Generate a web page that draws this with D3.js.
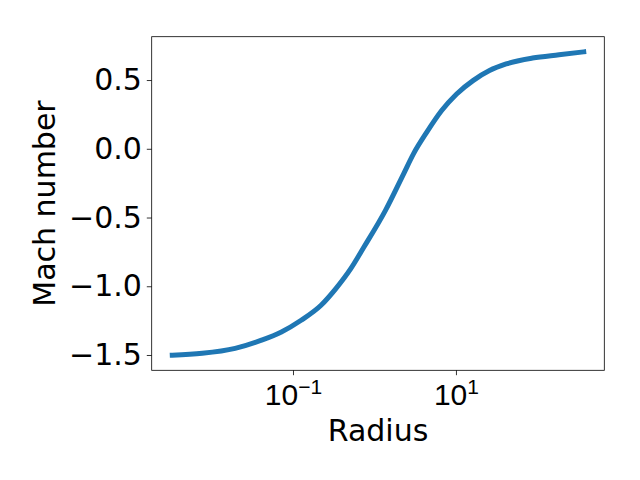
<!DOCTYPE html>
<html>
<head>
<meta charset="utf-8">
<script src="https://cdn.jsdelivr.net/npm/d3@7"></script>
<style>
  body { margin: 0; background: #fff; }
  svg { font-family: "DejaVu Sans", sans-serif; }
</style>
</head>
<body>
<svg id="chart" width="640" height="480"></svg>
<script>
// values
var radius = [0.0033, 0.0077, 0.0195, 0.0411, 0.0721, 0.126, 0.221, 0.336, 0.512, 0.743, 1.365, 2.28, 3.01, 4.39, 6.68, 10.2, 16.2, 25.8, 41.3, 86.9, 184, 370];
var mach = [-1.501, -1.488, -1.452, -1.392, -1.332, -1.247, -1.138, -1.017, -0.872, -0.715, -0.448, -0.182, -0.037, 0.121, 0.278, 0.399, 0.496, 0.569, 0.617, 0.660, 0.684, 0.705];
var yTicks = [0.5, 0.0, -0.5, -1.0, -1.5];
var xTicks = [0.1, 10];

var margin = {left: 151.7, right: 640 - 604.3, top: 36.7, bottom: 480 - 370.3};
var width = 640 - margin.left - margin.right,
    height = 480 - margin.top - margin.bottom;
var fs = 30;

var svg = d3.select("#chart");
var g = svg.append("g").attr("transform", "translate(" + margin.left + "," + margin.top + ")");

// matplotlib style 5% margins, in log space for x
var lx = d3.extent(radius).map(Math.log10);
var padX = (lx[1] - lx[0]) * 0.05;
var x = d3.scaleLog()
    .domain([Math.pow(10, lx[0] - padX), Math.pow(10, lx[1] + padX)])
    .range([0, width]);
var ey = d3.extent(mach);
var padY = (ey[1] - ey[0]) * 0.05;
var y = d3.scaleLinear()
    .domain([ey[0] - padY, ey[1] + padY])
    .range([height, 0]);

var minus = function(s) { return s.replace("-", "\u2212"); };

// y axis
var yAxis = g.append("g")
    .call(d3.axisLeft(y).tickValues(yTicks).tickSize(4.9).tickPadding(4.9)
        .tickFormat(function(d) { return minus(d3.format(".1f")(d)); }));
yAxis.select(".domain").remove();
yAxis.selectAll("text").attr("font-size", fs).attr("fill", "#000")
    .attr("font-family", "DejaVu Sans");
yAxis.selectAll("line").attr("stroke", "#000").attr("stroke-width", 0.8);

// x axis, labels as 10^n with superscript
var xAxis = g.append("g")
    .attr("transform", "translate(0," + height + ")")
    .call(d3.axisBottom(x).tickValues(xTicks).tickSize(4.9).tickPadding(4.9).tickFormat(""));
xAxis.select(".domain").remove();
xAxis.selectAll("line").attr("stroke", "#000").attr("stroke-width", 0.8);
xAxis.selectAll(".tick").append("text")
    .attr("y", 34.7)
    .attr("text-anchor", "middle")
    .attr("font-size", fs)
    .attr("fill", "#000")
    .each(function(d) {
        var t = d3.select(this);
        t.append("tspan").text("10");
        t.append("tspan")
            .attr("dy", -11)
            .attr("font-size", 21)
            .text(minus(String(Math.round(Math.log10(d)))));
    });

// frame
g.append("rect")
    .attr("width", width).attr("height", height)
    .attr("fill", "none").attr("stroke", "#000").attr("stroke-width", 0.8);

// curve
var line = d3.line()
    .x(function(d, i) { return x(radius[i]); })
    .y(function(d) { return y(d); })
    .curve(d3.curveMonotoneX);
g.append("path")
    .datum(mach)
    .attr("d", line)
    .attr("fill", "none")
    .attr("stroke", "#1f77b4")
    .attr("stroke-width", 5)
    .attr("stroke-linejoin", "round")
    .attr("stroke-linecap", "square");

// axis labels
svg.append("text")
    .attr("x", margin.left + width / 2)
    .attr("y", 441)
    .attr("text-anchor", "middle")
    .attr("font-size", fs)
    .text("Radius");
svg.append("text")
    .attr("transform", "translate(55," + (margin.top + height / 2) + ") rotate(-90)")
    .attr("text-anchor", "middle")
    .attr("font-size", fs)
    .text("Mach number");
</script>
</body>
</html>
